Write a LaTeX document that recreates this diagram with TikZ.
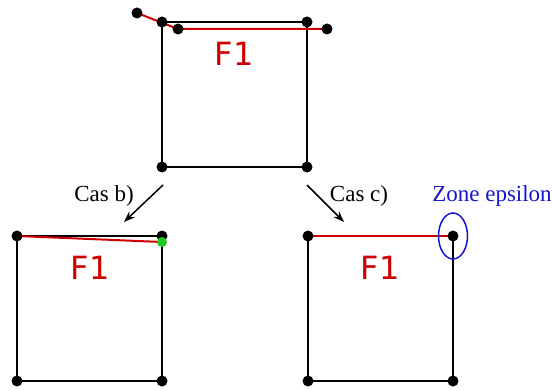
\documentclass[tikz,border=0pt]{standalone}
\usepackage{fontspec}
\setmainfont{Liberation Serif}
\newfontfamily\labelfont{DejaVu Sans}
\usetikzlibrary{shapes.geometric,arrows.meta}
\definecolor{fred}{RGB}{204,0,0}
\definecolor{zblue}{RGB}{20,20,204}
\definecolor{pgreen}{RGB}{30,200,30}
\tikzset{
  dot/.style={circle,fill=black,inner sep=0pt,minimum size=11pt},
  gdot/.style={circle,fill=pgreen,inner sep=0pt,minimum size=10pt},
  edge/.style={line width=1.6pt,black},
  redl/.style={line width=2pt,fred},
  flabel/.style={text=fred,font=\labelfont\fontsize{32}{32}\selectfont},
  caslabel/.style={font=\fontsize{23}{23}\selectfont},
  arr/.style={line width=1.5pt,-{Stealth[length=11pt,width=8pt]}},
}
\begin{document}
\begin{tikzpicture}[x=1pt,y=-1pt]
\useasboundingbox (0,0) rectangle (553,390);
% top square
\coordinate (A1) at (162,22);
\coordinate (A2) at (307,22);
\coordinate (A3) at (307,167);
\coordinate (A4) at (162,167);
\coordinate (R1) at (137,13);
\coordinate (R2) at (178,29);
\coordinate (R3) at (327,29);
\draw[edge] (A1) -- (A2) -- (A3) -- (A4) -- cycle;
\draw[redl] (R1) -- (R2) -- (R3);
\foreach \p in {A1,A2,A3,A4,R1,R2,R3} \node[dot] at (\p) {};
\node[flabel] (F1a) at (234,54) {F1};
% arrows
\coordinate (bs) at (163,185);
\coordinate (be) at (124,222);
\coordinate (cs) at (307,185);
\coordinate (ce) at (344,222);
\draw[arr] (bs) -- (be);
\draw[arr] (cs) -- (ce);
\node[caslabel] (cb) at (104,196) {Cas b)};
\node[caslabel] (cc) at (359,196) {Cas c)};
% bottom-left
\coordinate (B1) at (17,236);
\coordinate (B2) at (162,236);
\coordinate (B3) at (162,381);
\coordinate (B4) at (17,381);
\coordinate (BG) at (162,242);
\draw[edge] (B1) -- (B2) -- (B3) -- (B4) -- cycle;
\draw[redl] (B1) -- (BG);
\foreach \p in {B1,B2,B3,B4} \node[dot] at (\p) {};
\node[gdot] at (BG) {};
\node[flabel] (F1b) at (90,268) {F1};
% bottom-right
\coordinate (C1) at (308,236);
\coordinate (C2) at (453,236);
\coordinate (C3) at (453,381);
\coordinate (C4) at (308,381);
\draw[edge] (C1) -- (C2) -- (C3) -- (C4) -- cycle;
\draw[redl] (C1) -- (C2);
\foreach \p in {C1,C2,C3,C4} \node[dot] at (\p) {};
\node[flabel] (F1c) at (380,268) {F1};
\node[draw=zblue,line width=1.5pt,ellipse,minimum width=29pt,minimum height=46pt,inner sep=0pt] (eps) at (C2) {};
\node[caslabel,text=zblue] (zl) at (492,196) {Zone epsilon};
\end{tikzpicture}
\end{document}
